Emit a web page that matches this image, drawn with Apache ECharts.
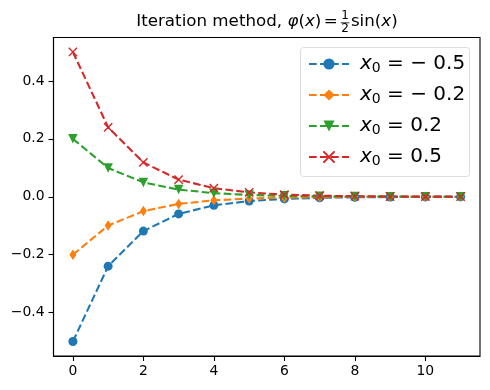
<!DOCTYPE html>
<html>
<head>
<meta charset="utf-8">
<script src="https://cdn.jsdelivr.net/npm/echarts@6/dist/echarts.min.js"></script>
<style>
html,body{margin:0;padding:0;background:#fff;}
#chart{width:490px;height:390px;}
</style>
</head>
<body>
<div id="chart"></div>
<script>
// ---- data ----
var iterations = [0, 1, 2, 3, 4, 5, 6, 7, 8, 9, 10, 11];
var seriesNames = ['−0.5', '−0.2', '0.2', '0.5'];
var valsNeg05 = [-0.5, -0.2397, -0.1187, -0.0592, -0.0296, -0.0148, -0.0074, -0.0037, -0.0018, -0.0009, -0.0005, -0.0002];
var valsNeg02 = [-0.2, -0.0993, -0.0496, -0.0248, -0.0124, -0.0062, -0.0031, -0.0016, -0.0008, -0.0004, -0.0002, -0.0001];
var valsPos02 = [0.2, 0.0993, 0.0496, 0.0248, 0.0124, 0.0062, 0.0031, 0.0016, 0.0008, 0.0004, 0.0002, 0.0001];
var valsPos05 = [0.5, 0.2397, 0.1187, 0.0592, 0.0296, 0.0148, 0.0074, 0.0037, 0.0018, 0.0009, 0.0005, 0.0002];
var xTicks = [0, 2, 4, 6, 8, 10];
var yTicks = [-0.4, -0.2, 0.0, 0.2, 0.4];

var FONT = 'DejaVu Sans';
var colors = ['#1f77b4', '#ff7f0e', '#2ca02c', '#d62728'];
var dash = [7.7, 3.3];

function pairs(vals) {
  return iterations.map(function (x, i) { return [x, vals[i]]; });
}

var seriesVals = [valsNeg05, valsNeg02, valsPos02, valsPos05];
var symbols = [
  {symbol: 'circle', size: 9, style: {color: colors[0], borderColor: colors[0], borderWidth: 0}},
  {symbol: 'diamond', size: [7, 10.5], style: {color: colors[1], borderColor: colors[1], borderWidth: 0}},
  {symbol: 'path://M-1,-1L1,-1L0,1Z', size: [9.5, 9.5], style: {color: colors[2], borderColor: colors[2], borderWidth: 0}},
  {symbol: 'path://M0,0L1,1M1,0L0,1', size: [8.3, 8.3], style: {color: 'none', borderColor: colors[3], borderWidth: 1.4}}
];

var series = seriesVals.map(function (vals, k) {
  return {
    name: seriesNames[k],
    type: 'line',
    data: pairs(vals),
    symbol: symbols[k].symbol,
    symbolSize: symbols[k].size,
    showAllSymbol: true,
    animation: false,
    lineStyle: {color: colors[k], width: 2.08, type: dash},
    itemStyle: symbols[k].style,
    emphasis: {disabled: true}
  };
});

// ---- title built from measured pieces ----
var ctx = document.createElement('canvas').getContext('2d');
function measure(text, size, italic) {
  ctx.font = (italic ? 'italic ' : '') + size + 'px "' + FONT + '"';
  return ctx.measureText(text).width;
}
var TS = 16.7, FS = 12;
var pieces = [
  {t: 'Iteration method, ', it: false},
  {t: 'φ', it: true},
  {t: '(', it: false},
  {t: 'x', it: true},
  {t: ')', it: false},
  {gap: 2.5},
  {t: '=', it: false},
  {gap: 2.5},
  {frac: ['1', '2']},
  {gap: 1},
  {t: 'sin', it: false},
  {t: '(', it: false},
  {t: 'x', it: true},
  {t: ')', it: false}
];
var total = 0;
pieces.forEach(function (p) {
  if (p.gap) { p.w = p.gap; }
  else if (p.frac) { p.w = Math.max(measure(p.frac[0], FS), measure(p.frac[1], FS)) + 2; }
  else { p.w = measure(p.t, TS, p.it); }
  total += p.w;
});
var centerX = 267, midY = 21.5;
var cx = centerX - total / 2;
var graphicEls = [];
// legend frame (light grey, rounded) drawn behind the legend
graphicEls.push({type: 'rect', shape: {x: 300.5, y: 47.5, width: 169, height: 129, r: 3},
  style: {fill: '#ffffff', stroke: '#dddddd', lineWidth: 1}});
pieces.forEach(function (p) {
  if (p.frac) {
    var c = cx + p.w / 2;
    graphicEls.push({type: 'text', x: c, y: 16, style: {text: p.frac[0], font: FS + 'px "' + FONT + '"', fill: '#000', align: 'center', verticalAlign: 'middle'}});
    graphicEls.push({type: 'line', shape: {x1: cx + 0.5, y1: 22.8, x2: cx + p.w - 0.5, y2: 22.8}, style: {stroke: '#000', lineWidth: 0.8}});
    graphicEls.push({type: 'text', x: c, y: 29, style: {text: p.frac[1], font: FS + 'px "' + FONT + '"', fill: '#000', align: 'center', verticalAlign: 'middle'}});
  } else if (p.t) {
    graphicEls.push({type: 'text', x: cx, y: midY, style: {text: p.t, font: (p.it ? 'italic ' : '') + TS + 'px "' + FONT + '"', fill: '#000', align: 'left', verticalAlign: 'middle'}});
  }
  cx += p.w;
});

var chart = echarts.init(document.getElementById('chart'), null, {renderer: 'canvas'});
chart.setOption({
  backgroundColor: '#ffffff',
  animation: false,
  grid: {left: 53.5, right: 10, top: 37.5, bottom: 34, show: true, borderColor: '#000', borderWidth: 1.1, backgroundColor: 'transparent', containLabel: false},
  xAxis: {
    type: 'value', min: -0.55, max: 11.55,
    splitLine: {show: false},
    axisLine: {show: true, onZero: false, lineStyle: {color: '#000', width: 1.1}},
    axisTick: {show: true, length: 5, lineStyle: {color: '#000', width: 1.1}, customValues: xTicks},
    axisLabel: {customValues: xTicks, color: '#000', fontFamily: FONT, fontSize: 13.9, margin: 8,
      formatter: function (v) { return String(v); }}
  },
  yAxis: {
    type: 'value', min: -0.55, max: 0.55,
    splitLine: {show: false},
    axisLine: {show: true, onZero: false, lineStyle: {color: '#000', width: 1.1}},
    axisTick: {show: true, length: 5, lineStyle: {color: '#000', width: 1.1}, customValues: yTicks},
    axisLabel: {customValues: yTicks, color: '#000', fontFamily: FONT, fontSize: 13.9, margin: 9,
      formatter: function (v) { var s = Math.abs(v).toFixed(1); return (v < -1e-9 ? '−' : '') + s; }}
  },
  legend: {
    left: 300, top: 47,
    orient: 'vertical',
    padding: [6, 9, 8, 8],
    itemGap: 9,
    itemWidth: 40, itemHeight: 14,
    backgroundColor: 'transparent',
    borderColor: 'transparent', borderWidth: 0,
    data: seriesNames,
    formatter: function (name) { return '{i|x}{s|0}{t| = ' + name.replace('−', '− ') + '}'; },
    textStyle: {
      color: '#000', fontFamily: FONT, fontSize: 20, lineHeight: 22, padding: [0, 0, 0, 6],
      rich: {
        i: {fontFamily: FONT, fontSize: 20, fontStyle: 'italic', lineHeight: 22, color: '#000'},
        s: {fontFamily: FONT, fontSize: 14, lineHeight: 22, verticalAlign: 'bottom', color: '#000', padding: [0, 0, 0, 0]},
        t: {fontFamily: FONT, fontSize: 20, lineHeight: 22, color: '#000'}
      }
    }
  },
  graphic: graphicEls,
  series: series
});
</script>
</body>
</html>
